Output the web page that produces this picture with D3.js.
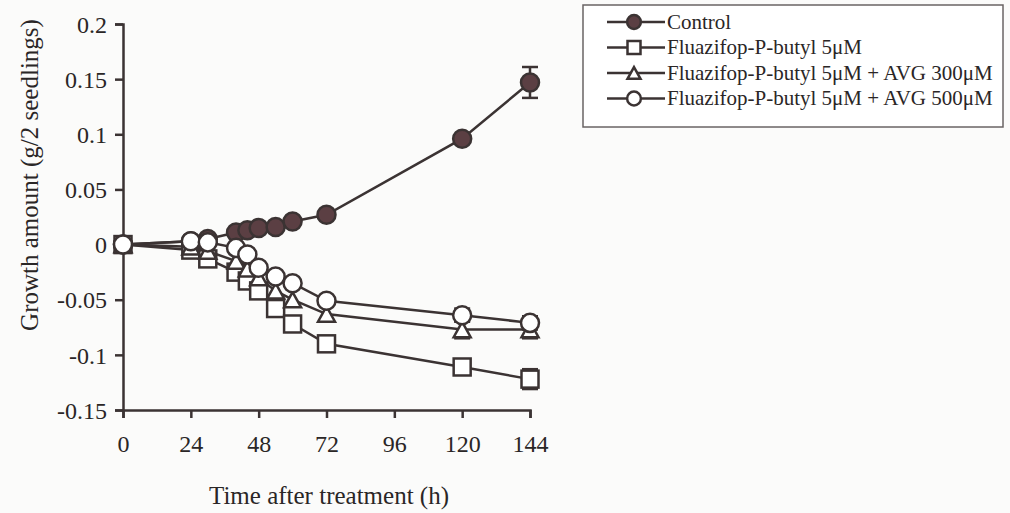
<!DOCTYPE html>
<html>
<head>
<meta charset="utf-8">
<script src="https://cdn.jsdelivr.net/npm/d3@7"></script>
<style>
  body { margin: 0; background: #fbfbfa; }
  text { font-family: "Liberation Serif", "Times New Roman", serif; fill: #2a2626; }
</style>
</head>
<body>
<div id="chart"></div>
<script>
// time points (h)
var hours = [0, 24, 30, 40, 44, 48, 54, 60, 72, 120, 144];

var control = [0, 0.003, 0.005, 0.011, 0.013, 0.015, 0.016, 0.021, 0.027, 0.096, 0.147];
var fluaz   = [0, -0.005, -0.013, -0.025, -0.033, -0.042, -0.058, -0.072, -0.090, -0.111, -0.122];
var avg300  = [0, -0.002, -0.006, -0.015, -0.022, -0.030, -0.042, -0.050, -0.063, -0.077, -0.077];
var avg500  = [0, 0.003, 0.002, -0.003, -0.009, -0.021, -0.029, -0.035, -0.051, -0.064, -0.071];

var errControl = [0, 0, 0, 0, 0, 0, 0, 0, 0, 0.002, 0.014];
var errFluaz   = [0, 0, 0, 0, 0, 0, 0, 0, 0, 0.006, 0.009];
var err300     = [0, 0, 0, 0, 0, 0, 0, 0, 0, 0.008, 0.008];
var err500     = [0, 0, 0, 0, 0, 0, 0, 0, 0, 0.006, 0.006];

var xTicks = [0, 24, 48, 72, 96, 120, 144];
var yTicks = [-0.15, -0.1, -0.05, 0, 0.05, 0.1, 0.15, 0.2];

var seriesNames = ["Control", "Fluazifop-P-butyl 5\u03bcM",
  "Fluazifop-P-butyl 5\u03bcM + AVG 300\u03bcM", "Fluazifop-P-butyl 5\u03bcM + AVG 500\u03bcM"];

var ink = "#3b3333";
var dotFill = "#5b3f43";

var series = [
  { name: seriesNames[0], vals: control, err: errControl, shape: "circle", fill: dotFill },
  { name: seriesNames[1], vals: fluaz, err: errFluaz, shape: "square", fill: "#fff" },
  { name: seriesNames[2], vals: avg300, err: err300, shape: "triangle", fill: "#fff" },
  { name: seriesNames[3], vals: avg500, err: err500, shape: "circle", fill: "#fff" }
];

var W = 1010, H = 513;
var svg = d3.select("#chart").append("svg").attr("width", W).attr("height", H);

var x = d3.scaleLinear().domain([0, 144]).range([123, 530]);
var y = d3.scaleLinear().domain([-0.15, 0.2]).range([410, 24]);

// axes
var yAxis = svg.append("g").attr("transform", "translate(123,0)")
  .call(d3.axisLeft(y).tickValues(yTicks).tickSize(8).tickPadding(8)
    .tickFormat(function(d) { return String(+d.toFixed(2)); }));
var xAxis = svg.append("g").attr("transform", "translate(0,410)")
  .call(d3.axisBottom(x).tickValues(xTicks).tickSize(8).tickPadding(16));

[yAxis, xAxis].forEach(function(a) {
  a.select(".domain").attr("stroke", ink).attr("stroke-width", 2.5);
  a.selectAll(".tick line").attr("stroke", ink).attr("stroke-width", 2.5);
  a.selectAll("text").style("font-size", "24px").attr("fill", "#2a2626");
});
yAxis.selectAll(".tick text").attr("dy", "0.34em");
xAxis.selectAll(".tick text").attr("dy", "0.75em");

svg.append("text")
  .attr("x", 329).attr("y", 504)
  .attr("text-anchor", "middle")
  .style("font-size", "25px")
  .text("Time after treatment (h)");

svg.append("text")
  .attr("transform", "translate(38,175) rotate(-90)")
  .attr("text-anchor", "middle")
  .style("font-size", "25px")
  .text("Growth amount (g/2 seedlings)");

function drawMarker(g, shape, fill, cx, cy, s) {
  if (shape == "circle") {
    g.append("circle").attr("cx", cx).attr("cy", cy).attr("r", s * 0.53)
      .attr("fill", fill).attr("stroke", ink).attr("stroke-width", 2.5);
  } else if (shape == "square") {
    g.append("rect").attr("x", cx - s / 2).attr("y", cy - s / 2)
      .attr("width", s).attr("height", s)
      .attr("fill", fill).attr("stroke", ink).attr("stroke-width", 2.5);
  } else {
    var h = s * 0.9;
    g.append("path")
      .attr("d", "M" + cx + "," + (cy - h / 2) + "L" + (cx + s / 2) + "," + (cy + h / 2) +
        "L" + (cx - s / 2) + "," + (cy + h / 2) + "Z")
      .attr("fill", fill).attr("stroke", ink).attr("stroke-width", 2.5);
  }
}

var line = d3.line()
  .x(function(d) { return x(d[0]); })
  .y(function(d) { return y(d[1]); });

series.forEach(function(s) {
  var g = svg.append("g");
  var pts = hours.map(function(h, i) { return [h, s.vals[i], s.err[i]]; });

  g.append("path").datum(pts).attr("d", line)
    .attr("fill", "none").attr("stroke", ink).attr("stroke-width", 2.5);

  pts.forEach(function(p) {
    if (p[2] > 0) {
      var cx = x(p[0]), y1 = y(p[1] + p[2]), y2 = y(p[1] - p[2]);
      g.append("line").attr("x1", cx).attr("x2", cx).attr("y1", y1).attr("y2", y2)
        .attr("stroke", ink).attr("stroke-width", 2.5);
      [y1, y2].forEach(function(yy) {
        g.append("line").attr("x1", cx - 8).attr("x2", cx + 8).attr("y1", yy).attr("y2", yy)
          .attr("stroke", ink).attr("stroke-width", 2.5);
      });
    }
  });

  pts.forEach(function(p) {
    drawMarker(g, s.shape, s.fill, x(p[0]), y(p[1]), 17);
  });
});

// legend
var leg = svg.append("g");
leg.append("rect").attr("x", 583).attr("y", 5).attr("width", 420).attr("height", 122)
  .attr("fill", "#fff").attr("stroke", "#6a6464").attr("stroke-width", 1.5);

series.forEach(function(s, i) {
  var ly = 22 + i * 25.5;
  leg.append("line").attr("x1", 607).attr("x2", 665).attr("y1", ly).attr("y2", ly)
    .attr("stroke", ink).attr("stroke-width", 2.5);
  drawMarker(leg, s.shape, s.fill, 634, ly, 13);
  leg.append("text").attr("x", 667).attr("y", ly).attr("dy", "0.33em")
    .style("font-size", "21px").text(s.name);
});
</script>
</body>
</html>
